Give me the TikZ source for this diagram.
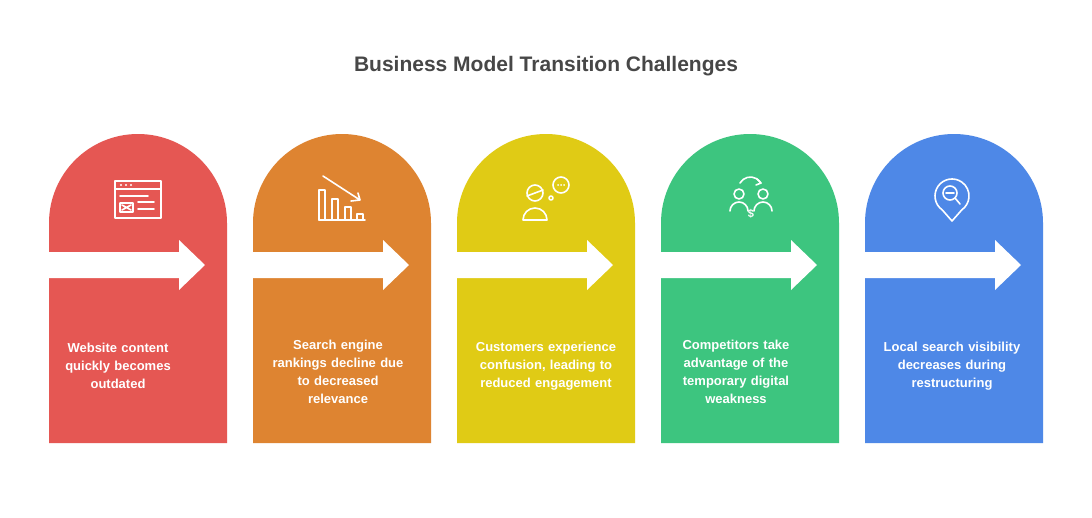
\documentclass[tikz,border=0pt]{standalone}
\usepackage{fontspec}
\setmainfont{Liberation Sans}
\begin{document}
\begin{tikzpicture}[x=1pt,y=-1pt]
\useasboundingbox[fill=white] (0,0) rectangle (1092,517);
\definecolor{cA}{HTML}{E55753}
\definecolor{cB}{HTML}{DE8431}
\definecolor{cC}{HTML}{E0CB15}
\definecolor{cD}{HTML}{3DC57F}
\definecolor{cE}{HTML}{4E88E7}
\tikzset{lbl/.style={text=white,font=\bfseries\fontsize{13}{18}\selectfont,align=center,text width=165},
ico/.style={draw=white,line width=1.6,line cap=round,line join=round}}
\node[font=\bfseries\fontsize{21}{24}\selectfont,text=black!72] (title) at (546,66) {Business Model Transition Challenges};
\foreach \i/\c in {0/cA,1/cB,2/cC,3/cD,4/cE}{
  \pgfmathsetmacro\xl{49+204*\i}
  \fill[\c] (\xl,443) -- (\xl,223) arc[start angle=180,end angle=0,x radius=89,y radius=-89] -- (\xl+178,443) -- cycle;
  \fill[white] (\xl,252) -- (\xl+130,252) -- (\xl+130,240) -- (\xl+156,265) -- (\xl+130,290) -- (\xl+130,278) -- (\xl,278) -- cycle;
}
\node[lbl] (t1) at (118,366) {Website content\\quickly becomes\\outdated};
\node[lbl] (t2) at (338,372) {Search engine\\rankings decline due\\to decreased\\relevance};
\node[lbl] (t3) at (546,366) {Customers experience\\confusion, leading to\\reduced engagement};
\node[lbl] (t4) at (736,372) {Competitors take\\advantage of the\\temporary digital\\weakness};
\node[lbl] (t5) at (952,366) {Local search visibility\\decreases during\\restructuring};
% icon 1
\draw[ico] (115,181) rectangle (161,218); \draw[ico] (115,189)--(161,189);
\foreach \d in {0,5,10} \fill[white] (121+\d,185) circle (1.2);
\draw[ico] (120,196)--(148,196) (138,202)--(154,202) (138,209)--(154,209);
\draw[ico] (120,203) rectangle (133,212) (122,205)--(131,210) (131,205)--(122,210);
% icon 2
\draw[ico] (319,220)--(365,220);
\draw[ico] (319,220)--(319,190)--(325,190)--(325,220) (332,220)--(332,199)--(338,199)--(338,220) (345,220)--(345,207)--(351,207)--(351,220) (357,220)--(357,214)--(363,214)--(363,220);
\draw[ico] (323,176)--(360,200) (351,201)--(360,200)--(358,193);
% icon 3
\draw[ico] (535,193) circle (8);
\draw[ico] (523,220) arc[start angle=180,end angle=360,radius=12] -- cycle;
\draw[ico] (527,196)--(543,190);
\draw[ico] (561,185) circle (8); \fill[white] (558,185) circle (1) (561,185) circle (1) (564,185) circle (1);
\draw[ico] (551,198) circle (2);
% icon 4
\draw[ico] (739,194) circle (5) (763,194) circle (5);
\draw[ico] (730,211) arc[start angle=180,end angle=360,radius=9];
\draw[ico] (754,211) arc[start angle=180,end angle=360,radius=9];
\draw[ico] (740,183) arc[start angle=210,end angle=330,radius=12];
\draw[ico] (757,179)--(761,183)--(756,185);
\node[text=white,font=\bfseries\fontsize{11}{11}\selectfont] (dl) at (751,214) {\$};
% icon 5
\draw[ico] (952,221) -- (942.25,209.9) arc[start angle=125,end angle=415,radius=17] -- cycle;
\draw[ico] (950,193) circle (7) (955,198)--(960,204) (946,193)--(954,193);
\end{tikzpicture}
\end{document}
